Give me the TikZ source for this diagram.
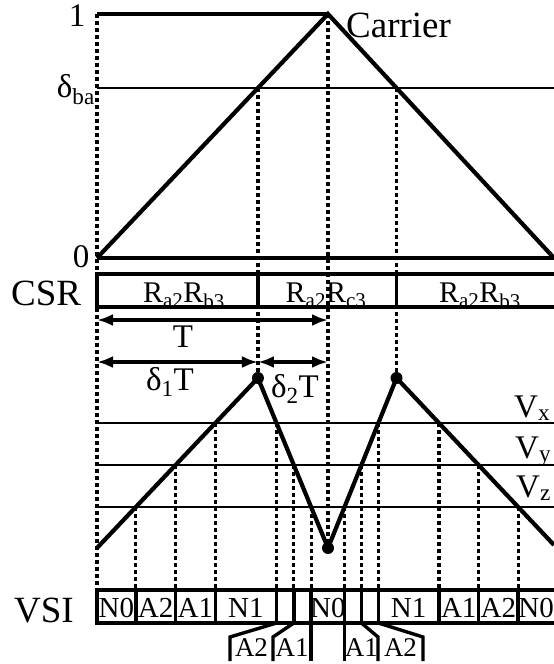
\documentclass[tikz,border=0pt]{standalone}
\usepackage{fontspec}
\setmainfont{Liberation Serif}
\usetikzlibrary{arrows.meta,calc,intersections}
\newcommand{\pwmsize}[1]{\fontsize{#1}{#1}\selectfont}
\tikzset{
  wavepath/.style={draw=black,line width=4.2pt,line join=miter},
  levelline/.style={draw=black,line width=2.4pt},
  guideline/.style={draw=black,line width=3.2pt,dash pattern=on 4pt off 3pt},
  stripline/.style={draw=black,line width=3.4pt},
  spanarrow/.style={draw=black,line width=3.2pt,
    {Latex[length=16pt,width=12pt]}-{Latex[length=16pt,width=12pt]}},
  bigtext/.style={inner sep=0pt,font=\pwmsize{37}},
  midtext/.style={inner sep=0pt,font=\pwmsize{33}},
  turnpoint/.style={circle,fill=black,inner sep=0pt,minimum size=12pt},
}

\begin{document}
\begin{tikzpicture}[x=1pt,y=-1pt,
    celltext/.style={inner sep=0pt,font=\pwmsize{29}},
    calltext/.style={inner sep=0pt,font=\pwmsize{27}},
    csrtext/.style={inner sep=0pt,font=\pwmsize{30}}]
  \path[use as bounding box] (0,0) rectangle (554,664);
  % carrier and its levels
  \coordinate (top) at (97,14);
  \coordinate (c0) at (97,258);
  \coordinate (c1) at (328,14);
  \coordinate (c2) at (554,258);
  \coordinate (b0) at (97,88);
  \coordinate (b1) at (554,88);
  \path[name path=dba] (b0) -- (b1);
  \path[name path=carrier] (c0) -- (c1) -- (c2);
  \path[name intersections={of=carrier and dba,sort by=carrier,by={d1,d2}}];
  % modulating wave
  \coordinate (hiy) at (0,378);
  \coordinate (m0) at (97,548);
  \coordinate (m1) at (d1 |- hiy);
  \coordinate (m2) at (c1 |- m0);
  \coordinate (m3) at (d2 |- hiy);
  \coordinate (m4) at (554,545);
  \path[name path=mod] (m0) -- (m1) -- (m2) -- (m3) -- (m4);
  \foreach \lv/\yy in {x/423,y/465,z/507} {
    \coordinate (\lv l) at (97,\yy);
    \coordinate (\lv r) at (554,\yy);
    \path[name path=lev] (\lv l) -- (\lv r);
    \path[name intersections={of=mod and lev,sort by=mod,by={\lv1,\lv2,\lv3,\lv4}}];
  }
  \coordinate (vsitl) at (97,590);
  \coordinate (vsibr) at (560,623);
  \coordinate (csrtl) at (97,274);
  \coordinate (csrbr) at (560,307);

  % dashed guides
  \draw[guideline] (top) -- (top |- vsitl);
  \draw[guideline] (d1) -- (m1);
  \draw[guideline] (c1) -- (m2);
  \draw[guideline] (d2) -- (m3);
  \foreach \p in {z1,y1,x1,x2,y2,z2,z3,y3,x3,x4,y4,z4}
    \draw[guideline] (\p) -- (\p |- vsitl);

  % carrier
  \draw[stripline] (top) -- (c1);
  \draw[levelline] (b0) -- (b1);
  \draw[stripline] (c0) -- (c2);
  \draw[wavepath] (c0) -- (c1) -- (c2);
  \node[midtext] (one) at (77,16) {1};
  \node[midtext,anchor=base east] (dbalabel) at (95,97) {δ\textsubscript{ba}};
  \node[midtext] (zero) at (81,257) {0};
  \node[bigtext,anchor=base west] (carrierlabel) at (346,37) {Carrier};

  % CSR strip
  \draw[stripline] (csrtl) rectangle (csrbr);
  \draw[stripline] (d1 |- csrtl) -- (d1 |- csrbr);
  \draw[stripline] (d2 |- csrtl) -- (d2 |- csrbr);
  \node[bigtext,anchor=base west] (csrlabel) at (11,305) {CSR};
  \node[csrtext,anchor=base] (csr1) at (184,302) {R\textsubscript{a2}R\textsubscript{b3}};
  \node[csrtext,anchor=base] (csr2) at (326,302) {R\textsubscript{a2}R\textsubscript{c3}};
  \node[csrtext,anchor=base] (csr3) at (480,302) {R\textsubscript{a2}R\textsubscript{b3}};

  % periods
  \coordinate (tarr) at (97,320);
  \coordinate (darr) at (97,362);
  \draw[spanarrow] (tarr) -- (tarr -| c1);
  \draw[spanarrow] (darr) -- (darr -| d1);
  \draw[spanarrow] (darr -| d1) -- (darr -| c1);
  \node[midtext,anchor=base] (tlabel) at (183,347) {T};
  \node[midtext,anchor=base] (d1label) at (170,390) {δ\textsubscript{1}T};
  \node[midtext,anchor=base] (d2label) at (295,397) {δ\textsubscript{2}T};

  % references and modulating wave
  \foreach \lv in {x,y,z}
    \draw[levelline] (\lv l) -- (\lv r);
  \draw[wavepath] (m0) -- (m1) -- (m2) -- (m3) -- (m4);
  \node[midtext,anchor=base west] (vxlabel) at (514,417) {V\textsubscript{x}};
  \node[midtext,anchor=base west] (vylabel) at (515,458) {V\textsubscript{y}};
  \node[midtext,anchor=base west] (vzlabel) at (516,497) {V\textsubscript{z}};
  \foreach \p in {m1,m2,m3}
    \node[turnpoint] (dot\p) at (\p) {};

  % VSI strip
  \draw[stripline] (vsitl) rectangle (vsibr);
  \foreach \p in {z1,y1,x1,x2,y2,z2,z3,y3,x3,x4,y4,z4}
    \draw[stripline] (\p |- vsitl) -- (\p |- vsibr);
  \node[bigtext,anchor=base west] (vsilabel) at (14,622) {VSI};
  \coordinate (cellbase) at (0,617);
  \coordinate (vl) at (97,617);
  \coordinate (vr) at (554,617);
  \foreach \a/\b/\t [count=\i] in {vl/z1/N0,z1/y1/A2,y1/x1/A1,x1/x2/N1,z2/z3/N0,
      x3/x4/N1,x4/y4/A1,y4/z4/A2,z4/vr/N0}
    \node[celltext,anchor=base] (cell\i) at ($(\a |- cellbase)!0.5!(\b |- cellbase)$) {\t};

  % narrow cells drawn out below
  \coordinate (cbot) at (0,661);
  \coordinate (callbase) at (0,656);
  \coordinate (k1) at (230,637);
  \coordinate (k2) at (273,637);
  \coordinate (k3) at (378,637);
  \coordinate (k4) at (423,637);
  \draw[stripline] (x2 |- vsibr) -- (k1) -- (k1 |- cbot);
  \draw[stripline] (y2 |- vsibr) -- (k2) -- (k2 |- cbot);
  \draw[stripline] (z2 |- vsibr) -- (z2 |- cbot);
  \draw[stripline] (z3 |- vsibr) -- (z3 |- cbot);
  \draw[stripline] (y3 |- vsibr) -- (k3) -- (k3 |- cbot);
  \draw[stripline] (x3 |- vsibr) -- (k4) -- (k4 |- cbot);
  \node[calltext,anchor=base] (call1) at ($(k1 |- callbase)!0.5!(k2 |- callbase)$) {A2};
  \node[calltext,anchor=base] (call2) at ($(k2 |- callbase)!0.5!(z2 |- callbase)$) {A1};
  \node[calltext,anchor=base] (call3) at ($(z3 |- callbase)!0.5!(k3 |- callbase)$) {A1};
  \node[calltext,anchor=base] (call4) at ($(k3 |- callbase)!0.5!(k4 |- callbase)$) {A2};
\end{tikzpicture}
\end{document}
